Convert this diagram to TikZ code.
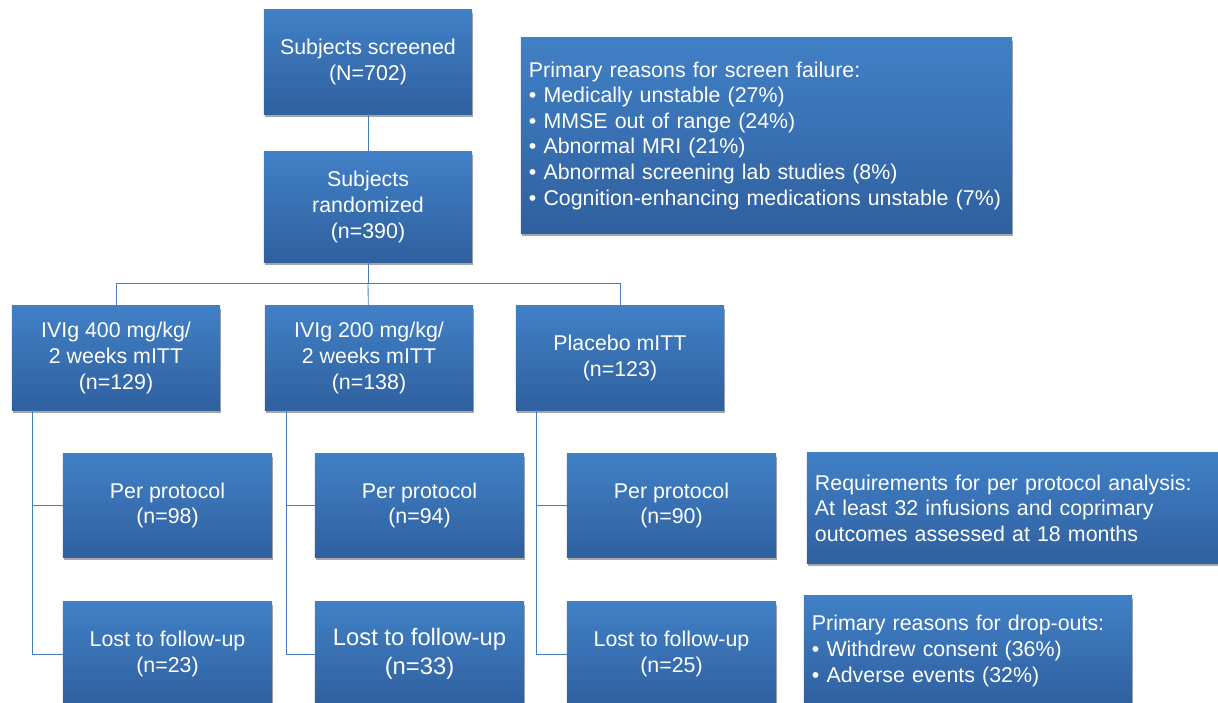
\documentclass[tikz,border=0pt]{standalone}
\usepackage{fontspec}
\setmainfont{Liberation Sans}
\usepackage{xcolor}
\usetikzlibrary{shadows}
\definecolor{bxtop}{HTML}{4180C6}
\definecolor{bxbot}{HTML}{2F609F}
\definecolor{ln}{HTML}{4A7EBB}

\begin{document}
\begin{tikzpicture}[
      x = 0.025cm, y = -0.025cm, % one unit per pixel
      thin, % line style
    ]

    \tikzstyle{box}=[
      draw = none,
      top color = bxtop,
      bottom color = bxbot,
      text = white,
      align = center,
      inner sep = 0pt,
      font = \fontsize{15.2}{18.2}\selectfont,
      drop shadow = {shadow xshift = 0.6pt, shadow yshift = -2.4pt, opacity = 0.35, fill = black}
    ]
    \tikzstyle{link}=[draw = ln, line width = 0.6pt]

    \useasboundingbox (0,0) rectangle (1218,703);
    \clip (0,0) rectangle (1218,703);

    \node[box, minimum width = 5.2cm, minimum height = 2.6cm] (scr) [at={(368, 62)}] {Subjects screened\\(N=702)};
    \node[box, minimum width = 5.2cm, minimum height = 2.75cm] (rnd) [at={(368, 207)}] {Subjects\\randomized\\(n=390)};
    \node[box, minimum width = 12.275cm, minimum height = 4.875cm, text width = 11.875cm, align = left] (rsn) [at={(766.5, 135.5)}]
      {Primary reasons for screen failure:\\
       \textbullet\ Medically unstable (27\%)\\
       \textbullet\ MMSE out of range (24\%)\\
       \textbullet\ Abnormal MRI (21\%)\\
       \textbullet\ Abnormal screening lab studies (8\%)\\
       \textbullet\ Cognition-enhancing medications unstable (7\%)};

    \node[box, minimum width = 5.2cm, minimum height = 2.6cm] (g400) [at={(116, 358)}] {IVIg 400 mg/kg/\\2 weeks mITT\\(n=129)};
    \node[box, minimum width = 5.2cm, minimum height = 2.6cm] (g200) [at={(369, 358)}] {IVIg 200 mg/kg/\\2 weeks mITT\\(n=138)};
    \node[box, minimum width = 5.2cm, minimum height = 2.6cm] (pbo) [at={(620, 358)}] {Placebo mITT\\(n=123)};

    \node[box, minimum width = 5.225cm, minimum height = 2.575cm] (pp98) [at={(167.5, 505.5)}] {Per protocol\\(n=98)};
    \node[box, minimum width = 5.225cm, minimum height = 2.575cm] (pp94) [at={(419.5, 505.5)}] {Per protocol\\(n=94)};
    \node[box, minimum width = 5.225cm, minimum height = 2.575cm] (pp90) [at={(671.5, 505.5)}] {Per protocol\\(n=90)};
    \node[box, minimum width = 10.575cm, minimum height = 2.75cm, text width = 10.175cm, align = left] (req) [at={(1018.5, 508)}]
      {Requirements for per protocol analysis:\\At least 32 infusions and coprimary\\outcomes assessed at 18 months};

    \node[box, minimum width = 5.225cm, minimum height = 2.6cm] (lf23) [at={(167.5, 654)}] {Lost to follow-up\\(n=23)};
    \node[box, minimum width = 5.225cm, minimum height = 2.6cm, font = \fontsize{16.9}{20.6}\selectfont] (lf33) [at={(419.5, 654)}] {Lost to follow-up\\(n=33)};
    \node[box, minimum width = 5.225cm, minimum height = 2.6cm] (lf25) [at={(671.5, 654)}] {Lost to follow-up\\(n=25)};
    \node[box, minimum width = 8.2cm, minimum height = 2.75cm, text width = 7.8cm, align = left] (drp) [at={(968, 651)}]
      {Primary reasons for drop-outs:\\
       \textbullet\ Withdrew consent (36\%)\\
       \textbullet\ Adverse events (32\%)};

    \coordinate (split) at (368, 283);

    \path[link] (scr) -- (rnd);
    \path[link] (rnd) -- (split);
    \path[link] (split) -| (g400);
    \path[link] (split) -- (g200);
    \path[link] (split) -| (pbo);

    \path[link] (g400.south west) ++(21,0) |- (pp98.west);
    \path[link] (g400.south west) ++(21,0) |- (lf23.west);
    \path[link] (g200.south west) ++(22,0) |- (pp94.west);
    \path[link] (g200.south west) ++(22,0) |- (lf33.west);
    \path[link] (pbo.south west) ++(21,0) |- (pp90.west);
    \path[link] (pbo.south west) ++(21,0) |- (lf25.west);

  \end{tikzpicture}
\end{document}
